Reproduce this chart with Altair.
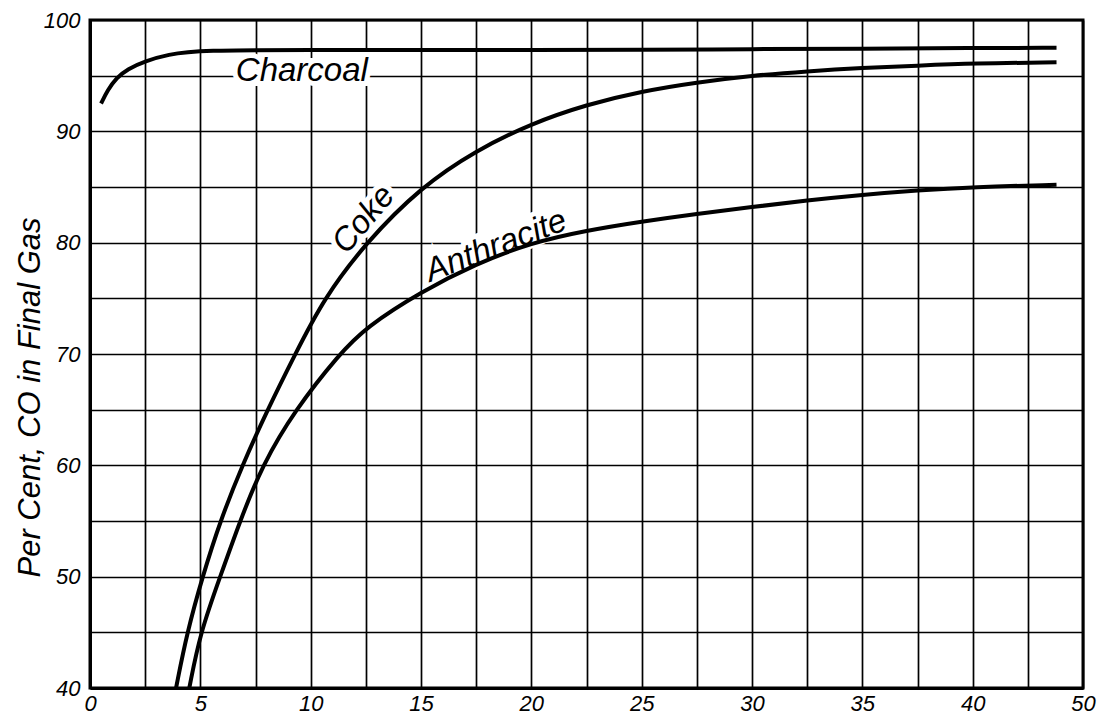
import altair as alt
import pandas as pd

# ---- data ----
charcoal_x = [0.5, 0.8, 1.2, 1.7, 2.5, 3.5, 5, 10, 15, 20, 25, 30, 35, 40, 43.8]
charcoal_y = [92.5, 93.7, 94.8, 95.6, 96.3, 96.9, 97.3, 97.3, 97.3, 97.3, 97.3, 97.4, 97.4, 97.5, 97.5]

coke_x = [3.9, 4.4, 5.1, 5.9, 6.9, 8.0, 9.3, 10.6, 12.5, 15, 17.5, 20, 22.5, 25, 27.5, 30, 32.5, 35, 37.5, 40, 43.8]
coke_y = [40, 45, 50, 55, 60, 64.8, 70, 75, 80, 85, 88.3, 90.7, 92.4, 93.6, 94.4, 95.0, 95.4, 95.7, 95.9, 96.1, 96.2]

anthracite_x = [4.5, 5.0, 5.9, 6.8, 7.8, 9.3, 11.3, 12.5, 15, 17.5, 20, 22.5, 25, 27.5, 30, 32.5, 35, 37.5, 40, 43.8]
anthracite_y = [40, 45, 50, 55, 60, 65, 70, 72.4, 75.6, 78.1, 80.0, 81.1, 81.9, 82.6, 83.2, 83.8, 84.3, 84.7, 85.0, 85.2]

series_names = ["Charcoal", "Coke", "Anthracite"]
x_grid = [i * 2.5 for i in range(19)]          # 0 .. 45
y_grid = [40 + i * 5 for i in range(13)]       # 40 .. 100
y_title = "Per Cent, CO in Final Gas"

# curve labels: text, x, y
label_text = ["Charcoal", "Coke", "Anthracite"]
label_x = [9.6, 12.4, 18.4]
label_y = [95.4, 82.1, 79.7]

# ---- build tables ----
rows = []
for name, xs, ys in zip(series_names, [charcoal_x, coke_x, anthracite_x], [charcoal_y, coke_y, anthracite_y]):
    for a, b in zip(xs, ys):
        rows.append({"series": name, "x": a, "y": b})
df = pd.DataFrame(rows)

FONT = "Liberation Sans"

x_scale = alt.Scale(domain=[0, 45], nice=False, zero=False)
y_scale = alt.Scale(domain=[40, 100], nice=False, zero=False)

x_axis = alt.Axis(
    values=x_grid, grid=True, gridColor="black", gridWidth=1.7, gridOpacity=1,
    ticks=False, domainColor="black", domainWidth=3,
    labelExpr="datum.value == 45 ? '50' : (datum.value % 5 == 0 ? datum.label : '')",
    labelFont=FONT, labelFontSize=22, labelFontStyle="italic", labelColor="black",
    labelPadding=5, labelOverlap=False, labelFlush=False, title=None,
)
y_axis = alt.Axis(
    values=y_grid, grid=True, gridColor="black", gridWidth=1.7, gridOpacity=1,
    ticks=False, domainColor="black", domainWidth=3,
    labelExpr="datum.value % 10 == 0 ? datum.label : ''",
    labelFont=FONT, labelFontSize=22, labelFontStyle="italic", labelColor="black",
    labelPadding=10, labelOverlap=False, labelFlush=False,
    title=y_title, titleFont=FONT, titleFontSize=31, titleFontStyle="italic",
    titleFontWeight="normal", titleColor="black", titleX=-60, titleY=377,
    titleBaseline="middle",
)

lines = alt.Chart(df).mark_line(color="black", strokeWidth=4, interpolate="basis").encode(
    x=alt.X("x:Q", scale=x_scale, axis=x_axis),
    y=alt.Y("y:Q", scale=y_scale, axis=y_axis),
    detail="series:N",
)

angles = {"Charcoal": 0, "Coke": 310, "Anthracite": 339}


def label_layer(i, halo):
    d = pd.DataFrame({"text": [label_text[i]], "x": [label_x[i]], "y": [label_y[i]]})
    kw = dict(font=FONT, fontSize=33, fontStyle="italic", align="center",
              baseline="middle", angle=angles[label_text[i]])
    if halo:
        m = alt.Chart(d).mark_text(fill="white", stroke="white", strokeWidth=10, **kw)
    else:
        m = alt.Chart(d).mark_text(fill="black", **kw)
    return m.encode(
        x=alt.X("x:Q", scale=x_scale, axis=x_axis),
        y=alt.Y("y:Q", scale=y_scale, axis=y_axis),
        text="text:N",
    )


halos = [label_layer(i, True) for i in range(3)]
texts = [label_layer(i, False) for i in range(3)]

chart = alt.layer(*halos, lines, *texts).properties(
    width=993, height=668,
    autosize=alt.AutoSizeParams(type="none"),
    padding={"left": 82, "top": 12, "right": 14, "bottom": 27},
    background="white",
).configure_view(stroke="black", strokeWidth=3)

chart.save("out.html", embed_options={"renderer": "svg", "actions": False})
